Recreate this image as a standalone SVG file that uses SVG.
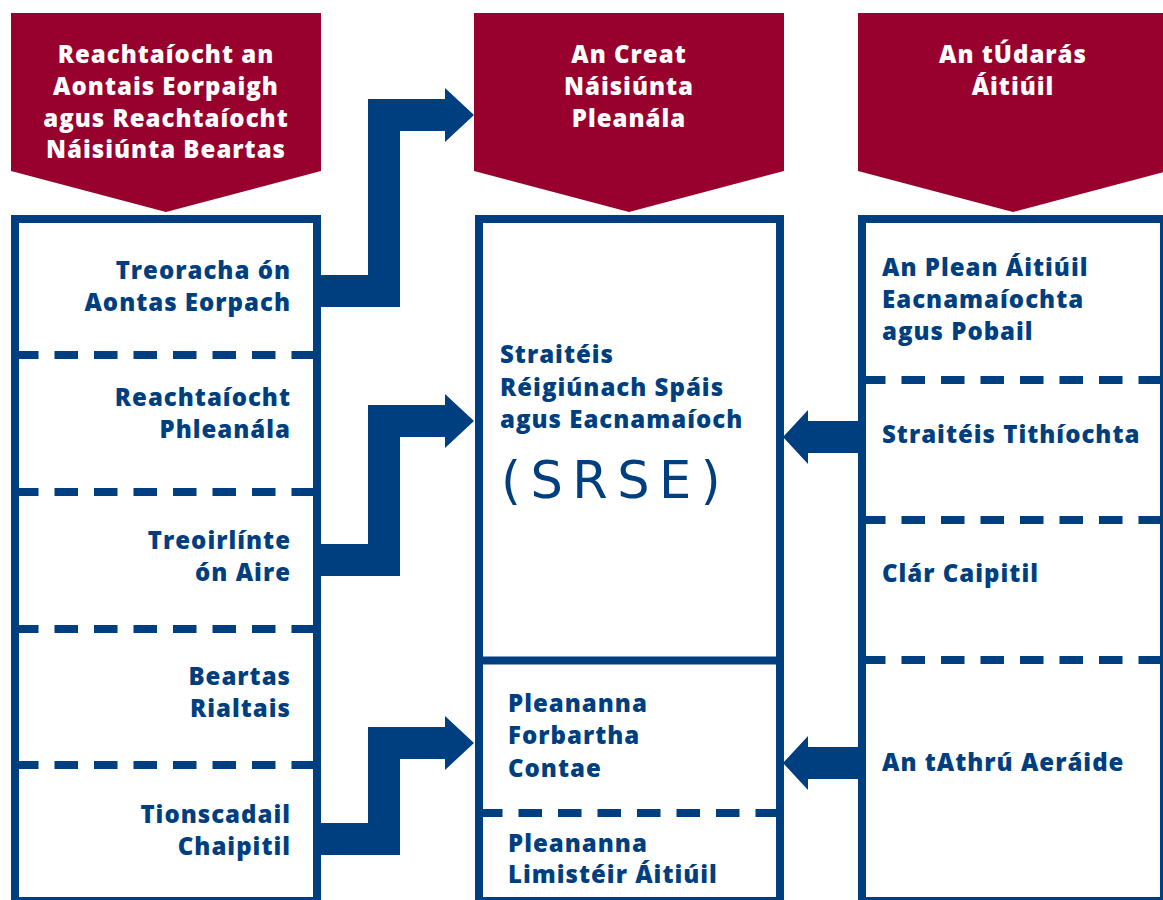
<svg xmlns="http://www.w3.org/2000/svg" width="1163" height="900" viewBox="0 0 1163 900">
<style>
.hdr{fill:#98002E}
.box{fill:#fff;stroke:#003F7F;stroke-width:8}
.dash{stroke:#003F7F;stroke-width:8;stroke-dasharray:23.5 16;fill:none}
.solid{stroke:#003F7F;stroke-width:8;fill:none}
.arr{fill:#003F7F}
text{font-family:"Open Sans","Liberation Sans",sans-serif;font-weight:800;font-size:24px;letter-spacing:1px}
.w{fill:#fff;text-anchor:middle}
.b{fill:#003F7F}
.r{text-anchor:end}
.big{font-family:"DejaVu Sans","Open Sans",sans-serif;font-weight:400;font-size:51px;letter-spacing:9.5px}
</style>
<rect width="1163" height="900" fill="#fff"/>
<g id="header-left">
<polygon class="hdr" points="11,13 321,13 321,171 166,212 11,171"/>
<text class="w" x="166" y="63">Reachtaíocht an</text>
<text class="w" x="166" y="95">Aontais Eorpaigh</text>
<text class="w" x="166" y="127">agus Reachtaíocht</text>
<text class="w" x="166" y="158">Náisiúnta Beartas</text>
</g>
<g id="header-middle">
<polygon class="hdr" points="474,13 784,13 784,171 629,212 474,171"/>
<text class="w" x="629" y="63">An Creat</text>
<text class="w" x="629" y="95">Náisiúnta</text>
<text class="w" x="629" y="127">Pleanála</text>
</g>
<g id="header-right">
<polygon class="hdr" points="858,13 1168,13 1168,171 1013,212 858,171"/>
<text class="w" x="1013" y="63">An tÚdarás</text>
<text class="w" x="1013" y="95">Áitiúil</text>
</g>
<g id="box-left">
<rect class="box" x="15" y="219" width="302" height="682"/>
<line class="dash" x1="15" y1="355" x2="317" y2="355"/>
<line class="dash" x1="15" y1="492" x2="317" y2="492"/>
<line class="dash" x1="15" y1="629" x2="317" y2="629"/>
<line class="dash" x1="15" y1="765" x2="317" y2="765"/>
<text class="b r" x="291" y="279">Treoracha ón</text>
<text class="b r" x="291" y="311">Aontas Eorpach</text>
<text class="b r" x="291" y="406">Reachtaíocht</text>
<text class="b r" x="291" y="438">Phleanála</text>
<text class="b r" x="291" y="549">Treoirlínte</text>
<text class="b r" x="291" y="581">ón Aire</text>
<text class="b r" x="291" y="685">Beartas</text>
<text class="b r" x="291" y="717">Rialtais</text>
<text class="b r" x="291" y="823">Tionscadail</text>
<text class="b r" x="291" y="855">Chaipitil</text>
</g>
<g id="box-middle">
<rect class="box" x="479" y="219" width="301" height="682"/>
<line class="solid" x1="479" y1="660.5" x2="780" y2="660.5"/>
<line class="dash" x1="479" y1="813" x2="780" y2="813"/>
<text class="b" x="500" y="363">Straitéis</text>
<text class="b" x="500" y="396">Réigiúnach Spáis</text>
<text class="b" x="500" y="428">agus Eacnamaíoch</text>
<text class="b big" x="501" y="498">(SRSE)</text>
<text class="b" x="508" y="712">Pleananna</text>
<text class="b" x="508" y="744">Forbartha</text>
<text class="b" x="508" y="777">Contae</text>
<text class="b" x="508" y="852">Pleananna</text>
<text class="b" x="508" y="883">Limistéir Áitiúil</text>
</g>
<g id="box-right">
<rect class="box" x="862" y="219" width="302" height="682"/>
<line class="dash" x1="862" y1="380" x2="1164" y2="380"/>
<line class="dash" x1="862" y1="520" x2="1164" y2="520"/>
<line class="dash" x1="862" y1="660" x2="1164" y2="660"/>
<text class="b" x="882" y="276">An Plean Áitiúil</text>
<text class="b" x="882" y="308">Eacnamaíochta</text>
<text class="b" x="882" y="340">agus Pobail</text>
<text class="b" x="882" y="443">Straitéis Tithíochta</text>
<text class="b" x="882" y="582">Clár Caipitil</text>
<text class="b" x="882" y="771">An tAthrú Aeráide</text>
</g>
<g id="connectors">
<polygon class="arr" points="317,275 368,275 368,99 445,99 445,88 474,115 445,142 445,131 400,131 400,307 317,307"/>
<polygon class="arr" points="317,544 368,544 368,405 445,405 445,394 474,421 445,448 445,437 400,437 400,576 317,576"/>
<polygon class="arr" points="317,823 368,823 368,727 445,727 445,716 474,743 445,770 445,759 400,759 400,855 317,855"/>
<polygon class="arr" points="862,421 808,421 808,410 783,437 808,464 808,453 862,453"/>
<polygon class="arr" points="862,747 808,747 808,736 783,763 808,790 808,779 862,779"/>
</g>
</svg>
